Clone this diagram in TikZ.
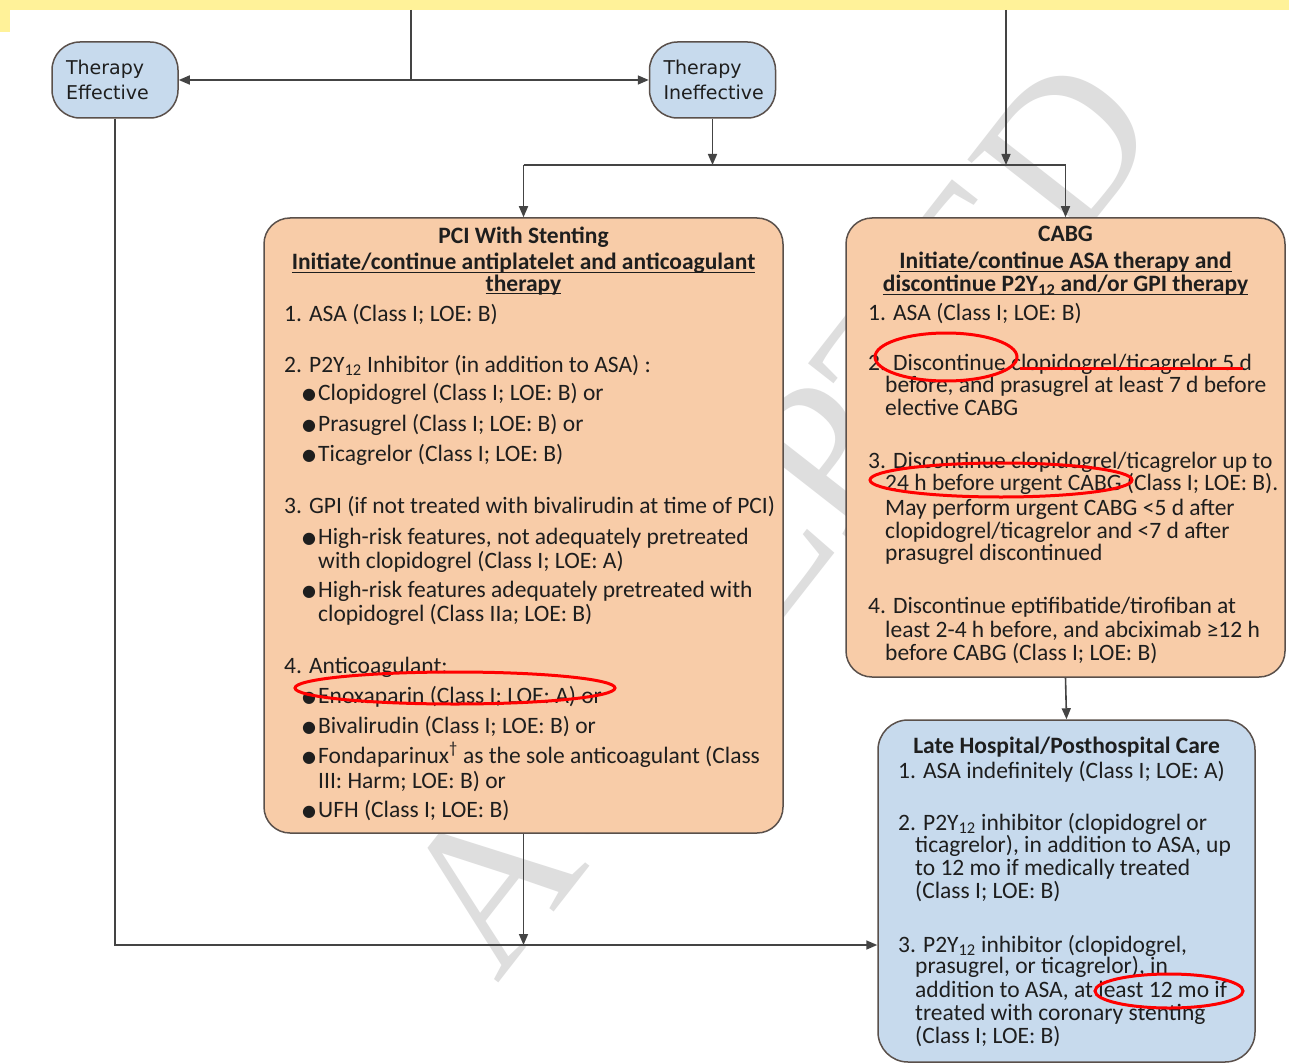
\documentclass[tikz,border=0pt]{standalone}
\usepackage{fontspec}
\setmainfont{Carlito}
\newfontfamily\djv{DejaVu Sans}
\newfontfamily\wmfont{Liberation Serif}
\usetikzlibrary{arrows.meta}

\definecolor{peach}{RGB}{248,204,168}
\definecolor{lblue}{RGB}{199,218,237}
\definecolor{edgeg}{RGB}{68,68,68}
\definecolor{boxedge}{RGB}{90,80,75}
\definecolor{bandyel}{RGB}{255,242,153}
\definecolor{txtc}{RGB}{30,30,30}
\definecolor{wmgray}{RGB}{222,222,222}

\newcommand{\bul}{\makebox[16pt][l]{\raisebox{0.5pt}{\djv\fontsize{16}{16}\selectfont ●}}}
\newcommand{\myul}[1]{\setbox0\hbox{#1}\rlap{\rule[-3pt]{\wd0}{1.3pt}}\box0}
\newcommand{\txtline}[4]{\node[txt] (#1) at (#2,#3) {#4};}
\newcommand{\ttlline}[4]{\node[ttl] (#1) at (#2,#3) {#4};}

\tikzset{
  txt/.style={anchor=base west, inner sep=0pt, text=txtc, font=\fontsize{23.5}{24}\selectfont},
  ttl/.style={anchor=base, inner sep=0pt, text=txtc, font=\fontsize{23.5}{24}\selectfont\bfseries},
  bigbox/.style={draw=boxedge, line width=1.5pt, rounded corners=26pt, inner sep=0pt},
  tbox/.style={draw=boxedge, line width=1.5pt, fill=lblue, rounded corners=28pt,
     minimum width=126pt, minimum height=76pt, inner xsep=14pt, text width=98pt,
     align=left, text=txtc, font=\djv\fontsize{19}{25}\selectfont},
  con/.style={draw=edgeg, line width=1.6pt},
  arr/.style={con, -{Triangle[length=11pt,width=9pt]}},
  redmark/.style={draw=red, line width=3pt},
  wm/.style={font=\wmfont\fontsize{210}{210}\selectfont, text=wmgray, rotate=52, inner sep=0pt}
}

\begin{document}
\begin{tikzpicture}[x=1pt, y=-1pt]
\useasboundingbox (0,0) rectangle (1289,1064);
\fill[fill=white] (0,0) rectangle (1289,1064);

% watermark (behind the boxes)
\node[wm] (wmark) at (778,515) {ACCEPTED};

% yellow band
\fill[fill=bandyel] (0,0) rectangle (1289,10);
\fill[fill=bandyel] (0,0) rectangle (10,32);

% boxes
\node[tbox] (te) at (115,80) {Therapy\\Effective};
\node[tbox] (ti) at (712.5,80) {Therapy\\Ineffective};
\node[bigbox, fill=peach, minimum width=519pt, minimum height=615pt] (pci) at (523.5,525.5) {};
\node[bigbox, fill=peach, minimum width=439pt, minimum height=459pt] (cabg) at (1065.5,447.5) {};
\node[bigbox, fill=lblue, rounded corners=30pt, minimum width=377pt, minimum height=342pt] (late) at (1066.5,891) {};

% connectors
\coordinate (topL) at (411,10);
\coordinate (jL) at (411,80);
\draw[con] (topL) -- (jL);
\draw[arr] (jL) -- (te.east);
\draw[arr] (jL) -- (ti.west);
\coordinate (topR) at (1006,10);
\coordinate (jR) at (1006,165);
\draw[arr] (topR) -- (jR);
\coordinate (jM) at (712.5,165);
\draw[arr] (ti.south) -- (jM);
\coordinate (sL) at (pci.north |- jM);
\coordinate (sR) at (cabg.north |- jM);
\draw[con] (sL) -- (sR);
\draw[arr] (sL) -- (pci.north);
\draw[arr] (sR) -- (cabg.north);
\draw[arr] (cabg.south) -- (late.north);
\coordinate (jB) at (523.5,945);
\coordinate (lateIn) at (late.west |- jB);
\draw[arr] (te.south) |- (lateIn);
\draw[arr] (pci.south) -- (jB);

% PCI text
\ttlline{p0}{523.5}{244}{PCI With Stenting}
\ttlline{p1}{523.5}{270}{\myul{Initiate/continue antiplatelet and anticoagulant}}
\ttlline{p2}{523.5}{291}{\myul{therapy}}
\txtline{p3}{284}{321}{1. ASA (Class I; LOE: B)}
\txtline{p4}{284}{372}{2. P2Y\textsubscript{12} Inhibitor (in addition to ASA) :}
\txtline{p5}{302}{400}{\bul Clopidogrel (Class I; LOE: B) or}
\txtline{p6}{302}{431}{\bul Prasugrel (Class I; LOE: B) or}
\txtline{p7}{302}{461}{\bul Ticagrelor (Class I; LOE: B)}
\txtline{p8}{284}{513}{3. GPI (if not treated with bivalirudin at time of PCI)}
\txtline{p9}{302}{544}{\bul High-risk features, not adequately pretreated}
\txtline{p10}{318}{568}{with clopidogrel (Class I; LOE: A)}
\txtline{p11}{302}{597}{\bul High-risk features adequately pretreated with}
\txtline{p12}{318}{621}{clopidogrel (Class IIa; LOE: B)}
\txtline{p13}{284}{673}{4. Anticoagulant:}
\txtline{p14}{302}{703}{\bul Enoxaparin (Class I; LOE: A) or}
\txtline{p15}{302}{733}{\bul Bivalirudin (Class I; LOE: B) or}
\txtline{p16}{302}{763}{\bul Fondaparinux\textsuperscript{\textdagger} as the sole anticoagulant (Class}
\txtline{p17}{318}{788}{III: Harm; LOE: B) or}
\txtline{p18}{302}{817}{\bul UFH (Class I; LOE: B)}

% CABG text
\ttlline{c0}{1065.5}{242}{CABG}
\ttlline{c1}{1065.5}{269}{\myul{Initiate/continue ASA therapy and}}
\ttlline{c2}{1065.5}{292}{\myul{discontinue P2Y\textsubscript{12} and/or GPI therapy}}
\txtline{c3}{868}{320}{1. ASA (Class I; LOE: B)}
\txtline{c4}{868}{370}{2. Discontinue clopidogrel/ticagrelor 5 d}
\txtline{c5}{885}{392}{before, and prasugrel at least 7 d before}
\txtline{c6}{885}{415}{elective CABG}
\txtline{c7}{868}{468}{3. Discontinue clopidogrel/ticagrelor up to}
\txtline{c8}{885}{490}{24 h before urgent CABG (Class I; LOE: B).}
\txtline{c9}{885}{515}{May perform urgent CABG <5 d after}
\txtline{c10}{885}{538}{clopidogrel/ticagrelor and <7 d after}
\txtline{c11}{885}{560}{prasugrel discontinued}
\txtline{c12}{868}{613}{4. Discontinue eptifibatide/tirofiban at}
\txtline{c13}{885}{637}{least 2-4 h before, and abciximab ≥12 h}
\txtline{c14}{885}{660}{before CABG (Class I; LOE: B)}

% Late text
\ttlline{l0}{1066.5}{753}{Late Hospital/Posthospital Care}
\txtline{l1}{898}{778}{1. ASA indefinitely (Class I; LOE: A)}
\txtline{l2}{898}{830}{2. P2Y\textsubscript{12} inhibitor (clopidogrel or}
\txtline{l3}{915}{852}{ticagrelor), in addition to ASA, up}
\txtline{l4}{915}{875}{to 12 mo if medically treated}
\txtline{l5}{915}{898}{(Class I; LOE: B)}
\txtline{l6}{898}{952}{3. P2Y\textsubscript{12} inhibitor (clopidogrel,}
\txtline{l7}{915}{973}{prasugrel, or ticagrelor), in}
\txtline{l8}{915}{997}{addition to ASA, at least 12 mo if}
\txtline{l9}{915}{1020}{treated with coronary stenting}
\txtline{l10}{915}{1043}{(Class I; LOE: B)}

% red annotations
\draw[redmark] (455,688) ellipse [x radius=160pt, y radius=16pt];
\draw[redmark] (946,357) ellipse [x radius=71pt, y radius=24pt];
\draw[redmark] (1020,368) -- (1243,368);
\draw[redmark] (1001,480) ellipse [x radius=131pt, y radius=17pt];
\draw[redmark] (1169,991) ellipse [x radius=74pt, y radius=17pt];
\end{tikzpicture}
\end{document}
